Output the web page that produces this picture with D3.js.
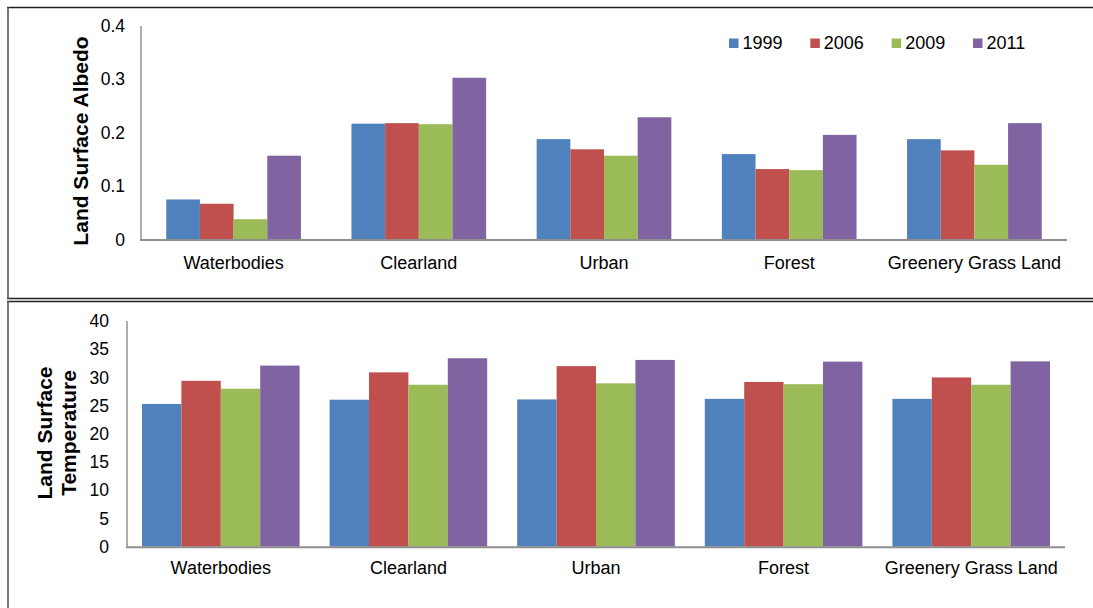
<!DOCTYPE html>
<html>
<head>
<meta charset="utf-8">
<script src="https://cdn.jsdelivr.net/npm/d3@7"></script>
<style>
  html, body { margin: 0; padding: 0; background: #fff; }
  svg { display: block; }
  text { font-family: Arial, "Liberation Sans", sans-serif; fill: #000; }
</style>
</head>
<body>
<svg id="chart" width="1093" height="608"></svg>
<script>
// Land cover classes and observation years
const categories = ["Waterbodies", "Clearland", "Urban", "Forest", "Greenery Grass Land"];
const years = ["1999", "2006", "2009", "2011"];
const yearColors = ["#4F81BD", "#C0504D", "#9BBB59", "#8064A2"];

// Land surface albedo per class, one array per year
const albedo1999 = [0.075, 0.217, 0.188, 0.160, 0.188];
const albedo2006 = [0.067, 0.218, 0.169, 0.132, 0.167];
const albedo2009 = [0.038, 0.216, 0.157, 0.130, 0.140];
const albedo2011 = [0.157, 0.303, 0.229, 0.196, 0.218];
const albedoTicks = [0, 0.1, 0.2, 0.3, 0.4];

// Land surface temperature per class, one array per year
const lst1999 = [25.3, 26.05, 26.1, 26.2, 26.2];
const lst2006 = [29.4, 30.9, 32.0, 29.2, 30.0];
const lst2009 = [28.0, 28.7, 28.95, 28.8, 28.7];
const lst2011 = [32.1, 33.4, 33.1, 32.8, 32.85];
const lstTicks = [0, 5, 10, 15, 20, 25, 30, 35, 40];

const svg = d3.select("#chart");

// Frames around the two panels
svg.append("line").attr("x1", 7).attr("x2", 1093).attr("y1", 7.5).attr("y2", 7.5)
  .attr("stroke", "#222").attr("stroke-width", 1.3);
svg.append("line").attr("x1", 7).attr("x2", 1093).attr("y1", 298.5).attr("y2", 298.5)
  .attr("stroke", "#222").attr("stroke-width", 1.3);
svg.append("line").attr("x1", 7).attr("x2", 1093).attr("y1", 301.5).attr("y2", 301.5)
  .attr("stroke", "#222").attr("stroke-width", 1.3);
svg.append("line").attr("x1", 8).attr("x2", 8).attr("y1", 7).attr("y2", 299)
  .attr("stroke", "#555").attr("stroke-width", 1.6);
svg.append("line").attr("x1", 8).attr("x2", 8).attr("y1", 301).attr("y2", 608)
  .attr("stroke", "#555").attr("stroke-width", 1.6);

function drawPanel(cfg) {
  const g = svg.append("g");
  const x = d3.scaleBand().domain(categories).range([cfg.x0, cfg.x1])
    .paddingInner(0).paddingOuter(0);
  const y = d3.scaleLinear().domain([cfg.ticks[0], cfg.ticks[cfg.ticks.length - 1]])
    .range([cfg.yBase, cfg.yTop]);
  const bw = x.bandwidth();
  const inner = d3.scaleBand().domain(years)
    .range([bw * cfg.pad, bw * (1 - cfg.pad)]);

  const rows = [];
  categories.forEach((c, i) => {
    years.forEach((yr, j) => rows.push({ c, yr, j, v: cfg.series[j][i] }));
  });

  g.selectAll("rect.bar").data(rows).join("rect")
    .attr("class", "bar")
    .attr("x", d => x(d.c) + inner(d.yr))
    .attr("width", inner.bandwidth())
    .attr("y", d => y(d.v))
    .attr("height", d => y(0) - y(d.v))
    .attr("fill", d => yearColors[d.j]);

  // Value axis
  const yAxis = d3.axisLeft(y).tickValues(cfg.ticks).tickSize(0).tickPadding(cfg.tickPad)
    .tickFormat(d3.format(cfg.fmt));
  const ya = g.append("g").attr("transform", `translate(${cfg.x0},0)`).call(yAxis);
  ya.select(".domain").remove();
  ya.selectAll("text").attr("font-size", 17.5).attr("font-family", "Arial, 'Liberation Sans', sans-serif")
    .attr("fill", "#000");
  g.append("line").attr("x1", cfg.x0).attr("x2", cfg.x0).attr("y1", cfg.yTop).attr("y2", cfg.yBase)
    .attr("stroke", "#9a9a9a").attr("stroke-width", 1.6);

  // Category axis
  const xAxis = d3.axisBottom(x).tickSize(0).tickPadding(cfg.catPad);
  const xa = g.append("g").attr("transform", `translate(0,${cfg.yBase})`).call(xAxis);
  xa.select(".domain").remove();
  xa.selectAll("text").attr("font-size", 18).attr("font-family", "Arial, 'Liberation Sans', sans-serif")
    .attr("fill", "#000");
  g.append("line").attr("x1", cfg.x0 - 1).attr("x2", cfg.x1).attr("y1", cfg.yBase + 0.5).attr("y2", cfg.yBase + 0.5)
    .attr("stroke", "#8f8f8f").attr("stroke-width", 2);

  // Axis title
  const t = g.append("text")
    .attr("transform", `translate(${cfg.titleX},${cfg.titleY}) rotate(-90)`)
    .attr("text-anchor", "middle")
    .attr("font-size", 21).attr("font-weight", "bold");
  cfg.title.forEach((line, i) => {
    t.append("tspan").attr("x", 0).attr("dy", i === 0 ? 0 : 23.5).text(line);
  });
  return g;
}

drawPanel({
  x0: 141, x1: 1067, yTop: 26, yBase: 239.5, pad: 0.1364,
  ticks: albedoTicks, fmt: "", tickPad: 16, catPad: 17,
  series: [albedo1999, albedo2006, albedo2009, albedo2011],
  title: ["Land Surface Albedo"], titleX: 88, titleY: 141
});

drawPanel({
  x0: 127, x1: 1065, yTop: 321, yBase: 546.7, pad: 0.08,
  ticks: lstTicks, fmt: "", tickPad: 18, catPad: 15,
  series: [lst1999, lst2006, lst2009, lst2011],
  title: ["Land Surface", "Temperature"], titleX: 52, titleY: 433
});

// Year legend in the upper panel
const legend = svg.append("g");
const lx = d3.scalePoint().domain(years).range([729, 973]);
years.forEach((yr, j) => {
  legend.append("rect").attr("x", lx(yr)).attr("y", 38.5).attr("width", 9.5).attr("height", 9.5)
    .attr("fill", yearColors[j]);
  legend.append("text").attr("x", lx(yr) + 13.5).attr("y", 49).attr("font-size", 18).text(yr);
});
</script>
</body>
</html>
